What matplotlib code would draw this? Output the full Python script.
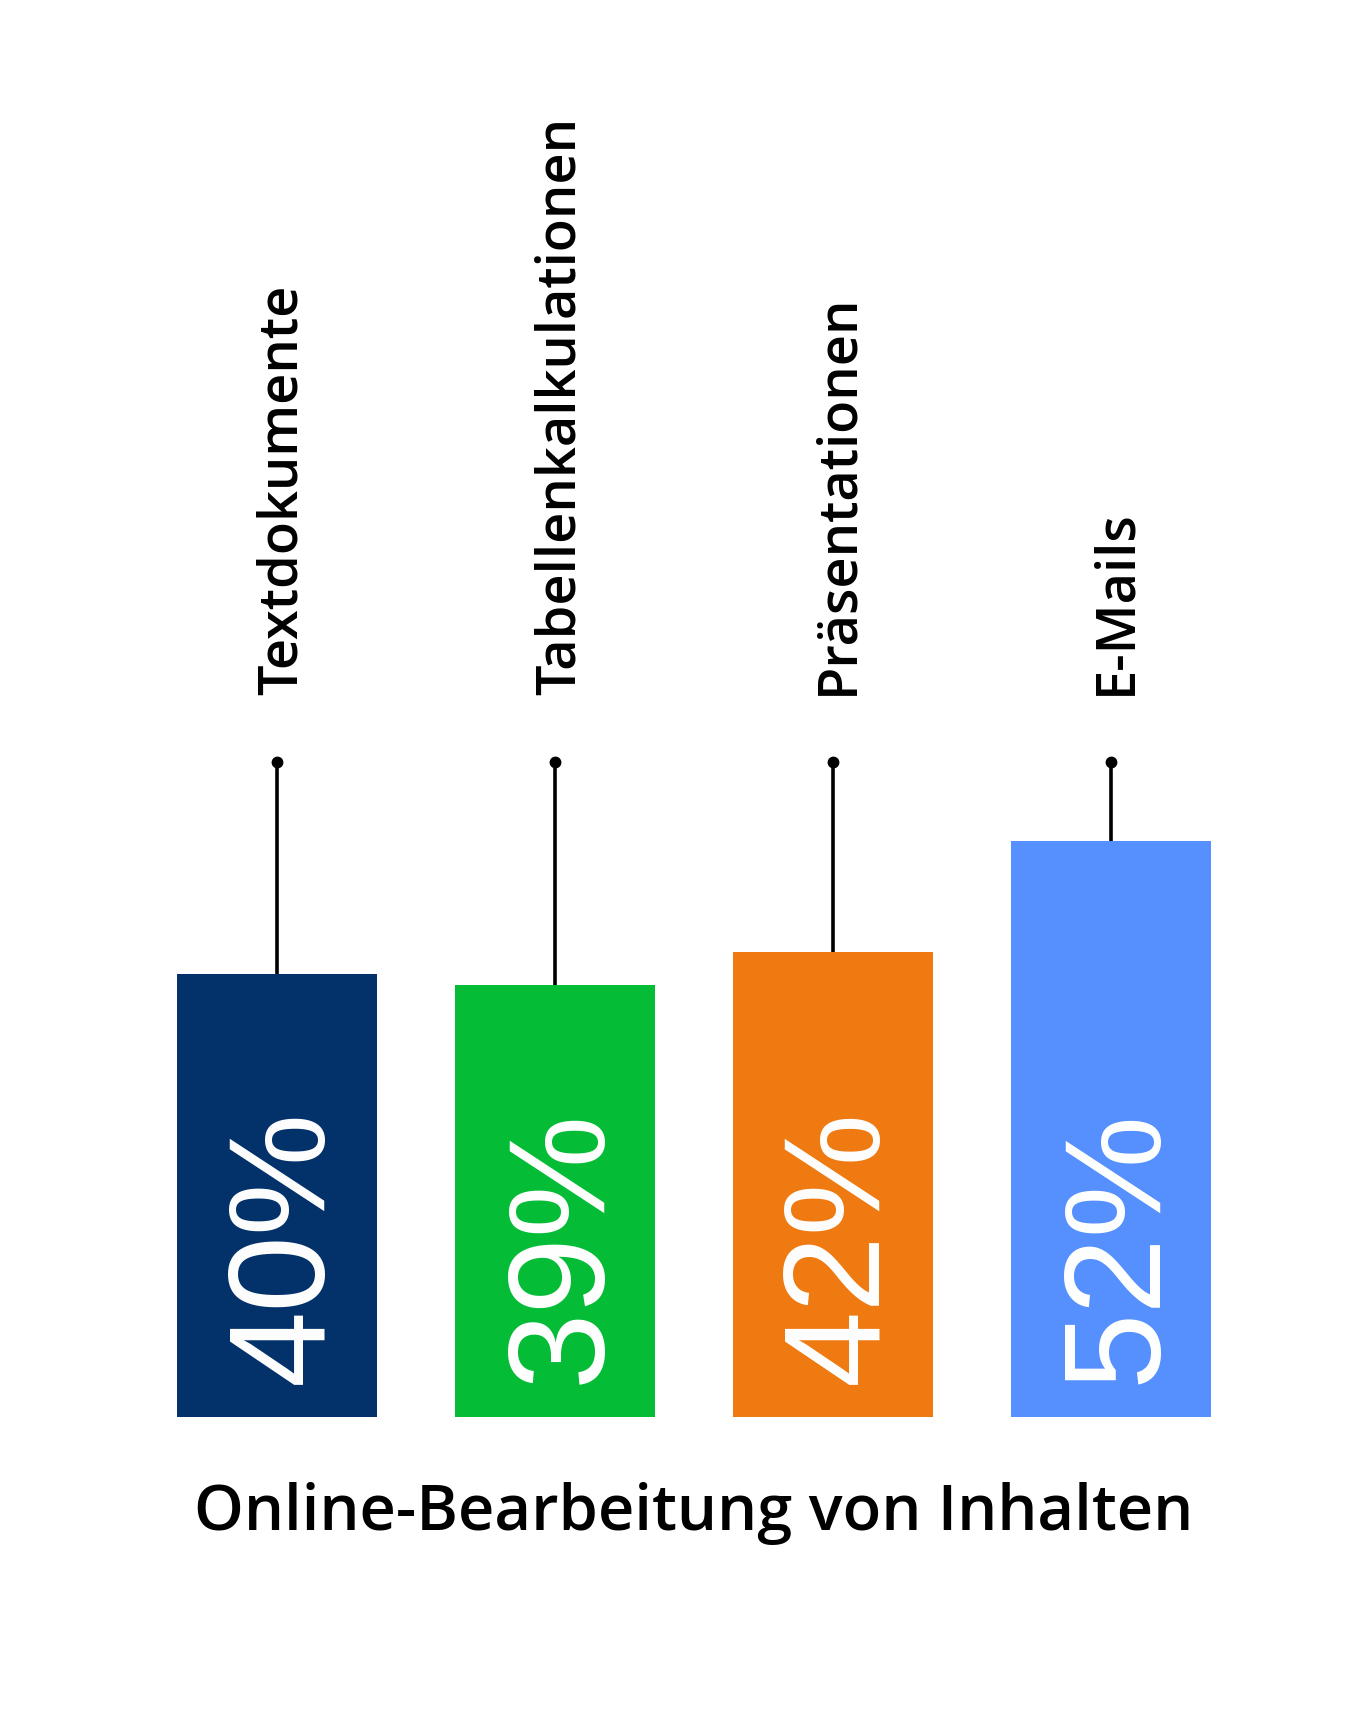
import matplotlib
matplotlib.use("Agg")
import matplotlib.pyplot as plt

categories = ["Textdokumente", "Tabellenkalkulationen", "Präsentationen", "E-Mails"]
values = [40, 39, 42, 52]
value_labels = ["40%", "39%", "42%", "52%"]
colors = ["#03326B", "#05BC37", "#EE7A11", "#5590FE"]
title = "Online-Bearbeitung von Inhalten"

W, H, DPI = 1349, 1734, 100
fig = plt.figure(figsize=(W / DPI, H / DPI), dpi=DPI)
ax = fig.add_axes([0, 0, 1, 1])
ax.set_xlim(-0.999, 3.858)
ax.set_ylim(-28.6, 127.9)
ax.axis("off")

x = list(range(len(categories)))
ax.bar(x, values, width=0.72, color=colors, zorder=2)

stem_top = 59.1
for xi, v, lab, vl in zip(x, values, categories, value_labels):
    ax.plot([xi, xi], [v, stem_top], color="black", lw=2.6, zorder=1,
            solid_capstyle="butt")
    ax.plot([xi], [stem_top], "o", color="black", ms=7.5, zorder=3)
    ax.text(xi + 0.02, 65.2, lab, rotation=90, ha="center", va="bottom",
            fontsize=39, family="Open Sans", fontweight="semibold", color="black")
    ax.text(xi + 0.032, 3.0, vl, rotation=90, ha="center", va="bottom",
            fontsize=99, family="Liberation Sans", color="white", zorder=4)

ax.text(1.5, -10.2, title, ha="center", va="baseline", fontsize=45.5,
        family="Open Sans", fontweight="semibold", color="black")

fig.savefig("out.png", dpi=DPI, facecolor="white")
